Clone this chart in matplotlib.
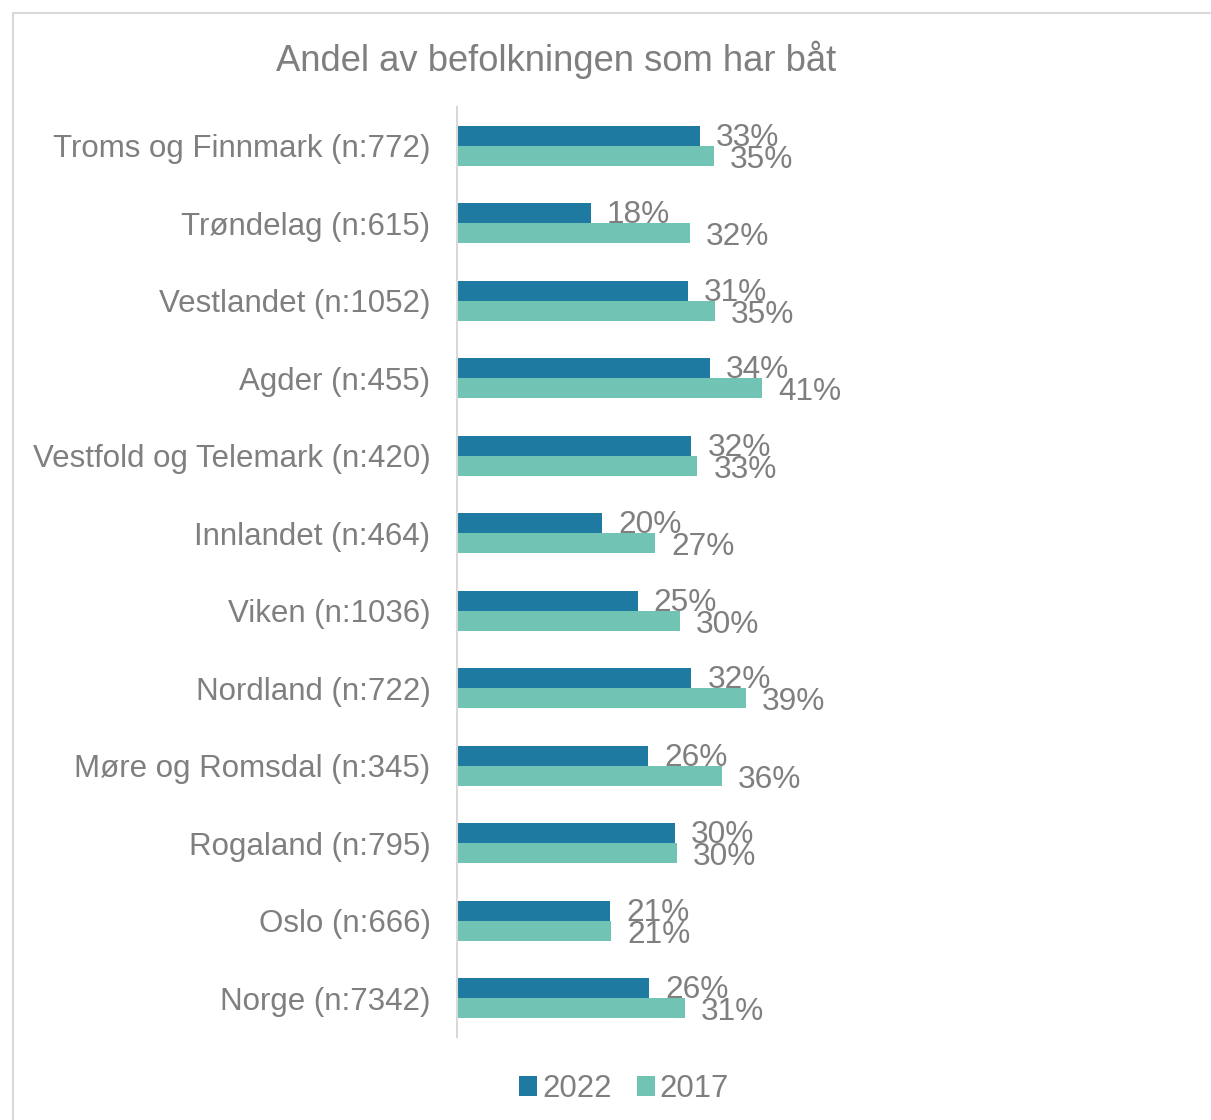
import matplotlib
matplotlib.use("Agg")
import matplotlib.pyplot as plt
from matplotlib.patches import Rectangle

categories = ["Troms og Finnmark (n:772)", "Trøndelag (n:615)", "Vestlandet (n:1052)",
              "Agder (n:455)", "Vestfold og Telemark (n:420)", "Innlandet (n:464)",
              "Viken (n:1036)", "Nordland (n:722)", "Møre og Romsdal (n:345)",
              "Rogaland (n:795)", "Oslo (n:666)", "Norge (n:7342)"]
v2022 = [32.6, 18.0, 31.0, 34.0, 31.5, 19.5, 24.3, 31.5, 25.7, 29.3, 20.6, 25.8]
v2017 = [34.5, 31.3, 34.7, 41.0, 32.3, 26.6, 30.0, 38.8, 35.6, 29.6, 20.7, 30.6]
lab2022 = ["33%", "18%", "31%", "34%", "32%", "20%", "25%", "32%", "26%", "30%", "21%", "26%"]
lab2017 = ["35%", "32%", "35%", "41%", "33%", "27%", "30%", "39%", "36%", "30%", "21%", "31%"]
series = ["2022", "2017"]

c2022 = "#1F7AA1"
c2017 = "#71C4B3"
tcol = "#7F7F7F"

plt.rcParams['font.family'] = ['Liberation Sans', 'DejaVu Sans']

W, H = 1211, 1120
fig = plt.figure(figsize=(W/100, H/100), dpi=100)

# outer chart border (partially visible)
fig.patches.append(Rectangle((13/W, -0.1), 1.2, (1120-13)/H + 0.1, transform=fig.transFigure,
                             fill=False, edgecolor="#D9D9D9", linewidth=1.5))

ax = fig.add_axes([457/W, (1120-1037)/H, (1180-457)/W, 930/H])
n = len(categories)
ypos = list(range(n))
bh = 0.26
ax.barh([y - bh/2 for y in ypos], v2022, height=bh, color=c2022, label=series[0])
ax.barh([y + bh/2 for y in ypos], v2017, height=bh, color=c2017, label=series[1])
for y, v, l in zip(ypos, v2022, lab2022):
    ax.annotate(l, (v, y - bh/2), xytext=(16, -2), textcoords="offset pixels",
                ha="left", va="center", fontsize=22.8, color=tcol)
for y, v, l in zip(ypos, v2017, lab2017):
    ax.annotate(l, (v, y + bh/2), xytext=(16, -4), textcoords="offset pixels",
                ha="left", va="center", fontsize=22.8, color=tcol)

ax.set_xlim(0, 723/7.44)
ax.set_ylim(n - 0.5, -0.5)
ax.set_yticks(ypos)
ax.set_yticklabels(categories, fontsize=22.5, color=tcol)
ax.tick_params(axis='y', length=0, pad=19)
ax.set_xticks([])
for s in ["top", "right", "bottom"]:
    ax.spines[s].set_visible(False)
ax.spines["left"].set_color("#D9D9D9")
ax.spines["left"].set_linewidth(1.5)

fig.text(556/W, 1 - 60/H, "Andel av befolkningen som har båt", ha="center", va="center",
         fontsize=26.2, color=tcol)

leg = fig.legend(loc="center", bbox_to_anchor=(624/W, 1 - 1089/H), ncol=2, frameon=False,
                 fontsize=22.4, labelcolor=tcol, handlelength=0.6, handleheight=0.6,
                 handletextpad=0.15, columnspacing=0.8)

fig.savefig("out.png", dpi=100)
